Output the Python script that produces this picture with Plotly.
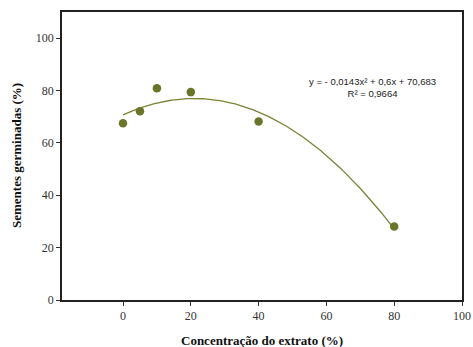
import numpy as np
import plotly.graph_objects as go

conc = [0, 5, 10, 20, 40, 80]
germ = [67.5, 72.1, 80.9, 79.4, 68.2, 28.1]
coef = [-0.0143, 0.6, 70.683]
x_ticks = [0, 20, 40, 60, 80, 100]
y_ticks = [0, 20, 40, 60, 80, 100]

xf = np.linspace(0, 80, 200)
yf = np.polyval(coef, xf)

olive = "#6b752a"
fig = go.Figure()
fig.add_trace(go.Scatter(x=xf, y=yf, mode="lines", line=dict(color="#7c8236", width=1.3), showlegend=False))
fig.add_trace(go.Scatter(x=conc, y=germ, mode="markers", marker=dict(color=olive, size=8.5), showlegend=False))

font = dict(family="Liberation Serif, Times New Roman, serif", size=12, color="#333")
fig.update_layout(
    width=473, height=347, margin=dict(l=62, r=11, t=12, b=47),
    plot_bgcolor="white", paper_bgcolor="white", font=font,
    xaxis=dict(range=[-18, 100], tickvals=x_ticks, ticks="outside", ticklen=4, tickcolor="#333",
               showline=True, linecolor="#222", linewidth=1.5, mirror=True, showgrid=False, zeroline=False,
               automargin=False),
    yaxis=dict(range=[0, 110], tickvals=y_ticks, ticks="outside", ticklen=4, tickcolor="#333",
               showline=True, linecolor="#222", linewidth=1.5, mirror=True, showgrid=False, zeroline=False,
               automargin=False),
)
title_font = dict(family="Liberation Serif, Times New Roman, serif", size=13, color="#111")
fig.add_annotation(xref="paper", yref="paper", x=0.5, y=-40 / 288, yanchor="middle",
                   text="<b>Concentração do extrato (%)</b>", showarrow=False, font=title_font)
fig.add_annotation(xref="paper", yref="paper", x=-46 / 400, y=0.5, xanchor="center", textangle=-90,
                   text="<b>Sementes germinadas (%)</b>", showarrow=False, font=title_font)
fig.add_annotation(xref="x", yref="y", x=73.5, y=81, text="y = - 0,0143x² + 0,6x + 70,683<br>R² = 0,9664",
                   showarrow=False, font=dict(family="Liberation Sans, Arial", size=9.5, color="#222"), align="center")
fig.write_html("out.html")
